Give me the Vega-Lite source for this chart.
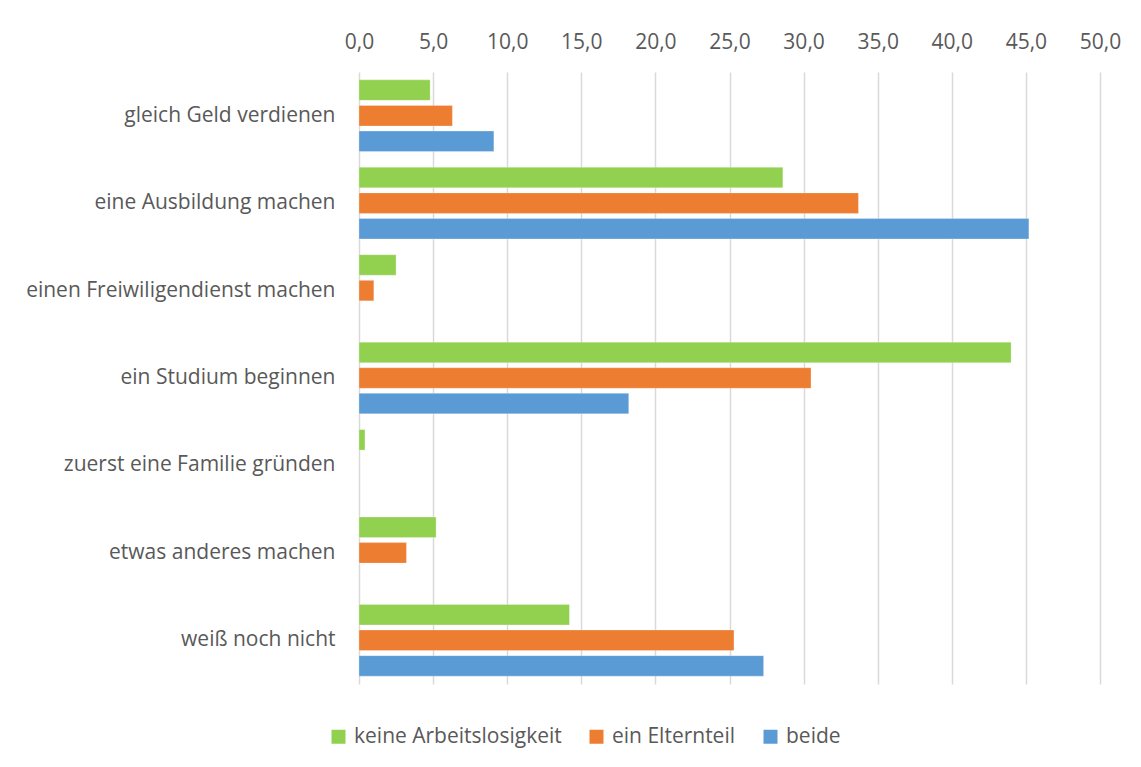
{
  "$schema": "https://vega.github.io/schema/vega-lite/v6.json",
  "autosize": "none",
  "width": 741,
  "height": 612,
  "padding": {"left": 359, "top": 72, "right": 41, "bottom": 83},
  "background": "#ffffff",
  "data": {
    "values": [
      {"plan": "gleich Geld verdienen\u00a0", "gruppe": "keine Arbeitslosigkeit", "prozent": 4.8},
      {"plan": "gleich Geld verdienen\u00a0", "gruppe": "ein Elternteil", "prozent": 6.3},
      {"plan": "gleich Geld verdienen\u00a0", "gruppe": "beide", "prozent": 9.1},
      {"plan": "eine Ausbildung machen", "gruppe": "keine Arbeitslosigkeit", "prozent": 28.6},
      {"plan": "eine Ausbildung machen", "gruppe": "ein Elternteil", "prozent": 33.7},
      {"plan": "eine Ausbildung machen", "gruppe": "beide", "prozent": 45.2},
      {"plan": "einen Freiwiligendienst machen", "gruppe": "keine Arbeitslosigkeit", "prozent": 2.5},
      {"plan": "einen Freiwiligendienst machen", "gruppe": "ein Elternteil", "prozent": 1.0},
      {"plan": "ein Studium beginnen", "gruppe": "keine Arbeitslosigkeit", "prozent": 44.0},
      {"plan": "ein Studium beginnen", "gruppe": "ein Elternteil", "prozent": 30.5},
      {"plan": "ein Studium beginnen", "gruppe": "beide", "prozent": 18.2},
      {"plan": "zuerst eine Familie gründen", "gruppe": "keine Arbeitslosigkeit", "prozent": 0.4},
      {"plan": "etwas anderes machen", "gruppe": "keine Arbeitslosigkeit", "prozent": 5.2},
      {"plan": "etwas anderes machen", "gruppe": "ein Elternteil", "prozent": 3.2},
      {"plan": "weiß noch nicht", "gruppe": "keine Arbeitslosigkeit", "prozent": 14.2},
      {"plan": "weiß noch nicht", "gruppe": "ein Elternteil", "prozent": 25.3},
      {"plan": "weiß noch nicht", "gruppe": "beide", "prozent": 27.3}
    ]
  },
  "mark": {"type": "bar", "stroke": "#ffffff", "strokeOpacity": 0.5, "strokeWidth": 0.5},
  "encoding": {
    "y": {
      "field": "plan",
      "type": "nominal",
      "sort": [
        "gleich Geld verdienen\u00a0",
        "eine Ausbildung machen",
        "einen Freiwiligendienst machen",
        "ein Studium beginnen",
        "zuerst eine Familie gründen",
        "etwas anderes machen",
        "weiß noch nicht"
      ],
      "scale": {"paddingInner": 0.18, "paddingOuter": 0.09},
      "axis": {
        "title": null,
        "domain": false,
        "ticks": false,
        "grid": false,
        "labelPadding": 24,
        "labelFont": "Open Sans",
        "labelFontSize": 21,
        "labelColor": "#595959",
        "labelLimit": 400
      }
    },
    "yOffset": {
      "field": "gruppe",
      "type": "nominal",
      "sort": ["keine Arbeitslosigkeit", "ein Elternteil", "beide"],
      "scale": {
        "domain": ["keine Arbeitslosigkeit", "ein Elternteil", "beide"],
        "paddingInner": 0.2,
        "paddingOuter": 0
      }
    },
    "x": {
      "field": "prozent",
      "type": "quantitative",
      "scale": {"domain": [0, 50], "nice": false, "zero": true},
      "axis": {
        "orient": "top",
        "title": null,
        "domain": false,
        "ticks": false,
        "values": [0, 5, 10, 15, 20, 25, 30, 35, 40, 45, 50],
        "labelExpr": "replace(format(datum.value, '.1f'), '.', ',')",
        "labelFlush": false,
        "labelOverlap": false,
        "labelBound": false,
        "labelPadding": 20,
        "labelFont": "Open Sans",
        "labelFontSize": 21,
        "labelColor": "#595959",
        "grid": true,
        "gridColor": "#d9d9d9",
        "gridWidth": 1.5
      }
    },
    "color": {
      "field": "gruppe",
      "type": "nominal",
      "sort": ["keine Arbeitslosigkeit", "ein Elternteil", "beide"],
      "scale": {
        "domain": ["keine Arbeitslosigkeit", "ein Elternteil", "beide"],
        "range": ["#92d050", "#ed7d31", "#5b9bd5"]
      },
      "legend": {
        "title": null,
        "orient": "none",
        "legendX": -31,
        "legendY": 654,
        "direction": "horizontal",
        "symbolType": "square",
        "symbolSize": 196,
        "symbolStrokeWidth": 0,
        "symbolOpacity": 1,
        "labelFont": "Open Sans",
        "labelFontSize": 21,
        "labelColor": "#595959",
        "labelOffset": 5,
        "columnPadding": 24,
        "labelLimit": 400
      }
    }
  },
  "config": {
    "view": {"stroke": null},
    "font": "Open Sans"
  }
}
